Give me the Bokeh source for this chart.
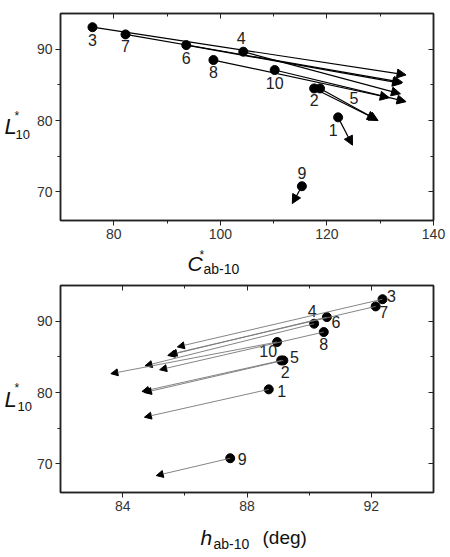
from bokeh.plotting import figure
from bokeh.models import (ColumnDataSource, Arrow, NormalHead, LinearAxis,
                          FixedTicker, Label)
from bokeh.layouts import column, row
from bokeh.embed import file_html
from bokeh.resources import INLINE

# ---------------- data ----------------
sample = ["1", "2", "3", "4", "5", "6", "7", "8", "9", "10"]
C_start = [122.1, 117.6, 76.0, 104.3, 118.7, 93.6, 82.2, 98.7, 115.3, 110.2]
C_end = [124.8, 129.3, 134.85, 133.8, 129.6, 134.0, 134.2, 131.7, 113.5, 134.85]
L_start = [80.45, 84.5, 93.08, 89.65, 84.5, 90.57, 92.07, 88.48, 70.8, 87.08]
L_end = [76.55, 80.15, 86.4, 83.75, 80.0, 85.2, 85.35, 83.2, 68.37, 82.65]
h_start = [88.70, 89.10, 92.36, 90.16, 89.17, 90.57, 92.14, 90.47, 87.46, 88.97]
h_end = [84.70, 84.62, 85.76, 84.72, 84.70, 85.45, 85.52, 85.19, 85.08, 83.62]

C_ticks = [80, 100, 120, 140]
C_minor = [90, 110, 130]
h_ticks = [84, 88, 92]
h_minor = [86, 90]
L_ticks = [70, 80, 90]
L_minor = [75, 85]

# label offsets (screen px, y downwards) for point numbers
top_dx = [-5, 0, 0, -2, 34, 0, 0, 0, 0, 0]
top_dy = [13, 12, 13, -14, 10, 13, 12, 12, -13, 13]
bot_dx = [13, 4, 9, -2, 11, 9, 8, 0, 12, -9]
bot_dy = [2, 12, -3, -13, -3, 5, 6, 12, 1, 9]

FONT = "Liberation Sans"
TICKC = "#333333"
INK = "#222222"


def base_fig(xr, width, height, mb_top, mb_bottom, xt, xm):
    p = figure(width=width, height=height, x_range=xr, y_range=(66, 95),
               output_backend="svg", toolbar_location=None,
               min_border_left=28, min_border_right=17,
               min_border_top=mb_top, min_border_bottom=mb_bottom)
    p.grid.visible = False
    p.outline_line_color = INK
    p.outline_line_width = 1.5
    for ax, t, m in ((p.xaxis[0], xt, xm), (p.yaxis[0], L_ticks, L_minor)):
        ax.ticker = FixedTicker(ticks=t, minor_ticks=m)
        ax.major_tick_out = 5
        ax.major_tick_in = 0
        ax.minor_tick_out = 3
        ax.minor_tick_in = 0
        ax.axis_line_width = 1.5
        ax.axis_line_color = INK
        ax.major_tick_line_color = INK
        ax.minor_tick_line_color = INK
        ax.major_label_text_font = FONT
        ax.major_label_text_font_size = "14px"
        ax.major_label_text_color = TICKC
        ax.major_label_standoff = 3
    # mirrored axes with inward ticks, no labels
    for loc, t, m in (("above", xt, xm), ("right", L_ticks, L_minor)):
        ax = LinearAxis(ticker=FixedTicker(ticks=t, minor_ticks=m),
                        major_tick_in=5, major_tick_out=0,
                        minor_tick_in=3, minor_tick_out=0,
                        major_label_overrides={v: "" for v in t},
                        major_label_text_font_size="1px",
                        major_label_standoff=0,
                        axis_line_width=1.5, axis_line_color=INK,
                        major_tick_line_color=INK,
                        minor_tick_line_color=INK)
        p.add_layout(ax, loc)
    return p


def blank(width, height):
    b = figure(width=width, height=height, x_range=(0, width),
               y_range=(height, 0), output_backend="svg",
               toolbar_location=None, x_axis_location=None,
               y_axis_location=None, min_border=0)
    b.grid.visible = False
    b.outline_line_color = None
    return b


def lab(b, x, y, text, size, italic=False):
    b.add_layout(Label(x=x, y=y, text=text, text_font=FONT,
                       text_font_size=size,
                       text_font_style="italic" if italic else "normal",
                       text_color="#111111", text_baseline="alphabetic",
                       text_align="left"))


def panel_points(p, xs0, xs1, dx, dy, head, lcolor, lwidth):
    src = ColumnDataSource(dict(x0=xs0, y0=L_start, x1=xs1, y1=L_end,
                                t=sample, dx=dx, dy=dy))
    p.add_layout(Arrow(end=NormalHead(size=head, fill_color="black",
                                      line_color="black"),
                       x_start="x0", y_start="y0", x_end="x1", y_end="y1",
                       line_color=lcolor, line_width=lwidth, source=src))
    p.scatter("x0", "y0", source=src, size=9, color="black")
    p.text("x0", "y0", text="t", source=src, x_offset="dx", y_offset="dy",
           text_align="center", text_baseline="middle", text_font_size="16px",
           text_font={"value": FONT}, text_color=INK)


# ---------------- top panel ----------------
p1 = base_fig((70, 140), 418, 245, 13, 25, C_ticks, C_minor)
panel_points(p1, C_start, C_end, top_dx, top_dy, 9, "black", 1.2)
yl1 = blank(32, 245)
lab(yl1, 4, 134, "L", "22px", True)
lab(yl1, 14, 121, "*", "12px")
lab(yl1, 15, 143, "10", "13px")
xl1 = blank(450, 35)
lab(xl1, 187, 18, "C", "21px", True)
lab(xl1, 199, 9, "*", "12px")
lab(xl1, 203, 23, "ab-10", "14px")

# ---------------- bottom panel ----------------
p2 = base_fig((82, 94), 418, 237, 5, 25, h_ticks, h_minor)
panel_points(p2, h_start, h_end, bot_dx, bot_dy, 7, "#777777", 0.9)
yl2 = blank(32, 237)
lab(yl2, 4, 130, "L", "22px", True)
lab(yl2, 14, 117, "*", "12px")
lab(yl2, 17, 138, "10", "13px")
xl2 = blank(450, 40)
lab(xl2, 200, 20, "h", "21px", True)
lab(xl2, 213, 26, "ab-10", "14px")
lab(xl2, 262, 20, "(deg)", "19px")

layout = column(row(yl1, p1, spacing=0), xl1,
                row(yl2, p2, spacing=0), xl2, spacing=0)
open("out.html", "w").write(file_html(layout, INLINE))
